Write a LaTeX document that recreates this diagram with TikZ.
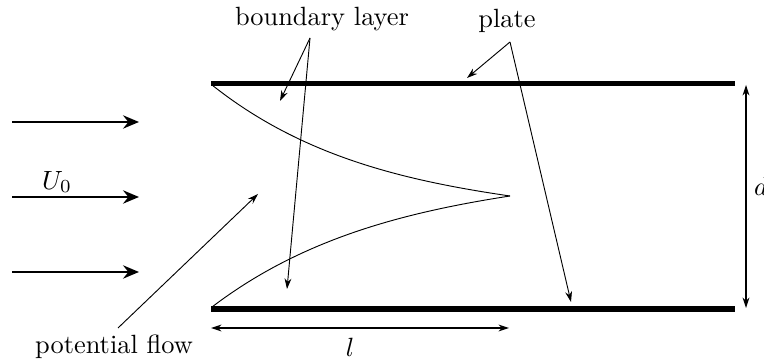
\documentclass[tikz,border=0pt]{standalone}
\usetikzlibrary{arrows.meta}
\begin{document}
\begin{tikzpicture}[x=0.379pt,y=-0.379pt,
  plateline/.style={line width=1.9pt},
  flowarrow/.style={line width=0.95pt,-{Stealth[length=6pt,width=5pt]}},
  thinarrow/.style={line width=0.35pt,-{Stealth[length=4pt,width=2.6pt]}},
  dimarrow/.style={line width=0.4pt,{Stealth[length=4pt,width=2.6pt]}-{Stealth[length=4pt,width=2.6pt]}},
  blcurve/.style={line width=0.35pt},
  lbl/.style={inner sep=0pt}]
\useasboundingbox (0,0) rectangle (764,362);
% plates
\coordinate (TL) at (211,84); \coordinate (TR) at (735,84);
\coordinate (BL) at (211,309); \coordinate (BR) at (735,309);
\draw[plateline] (TL) -- (TR);
\draw[plateline] (BL) -- (BR);
% incoming flow arrows
\coordinate (a1s) at (12,122); \coordinate (a1e) at (139,122);
\coordinate (a2s) at (12,197); \coordinate (a2e) at (139,197);
\coordinate (a3s) at (12,272); \coordinate (a3e) at (139,272);
\draw[flowarrow] (a1s) -- (a1e);
\draw[flowarrow] (a2s) -- (a2e);
\draw[flowarrow] (a3s) -- (a3e);
\node[lbl] (U) at (57,182) {$U_0$};
% boundary layers
\coordinate (tip) at (510,196);
\coordinate (ts) at (212,85);
\coordinate (bs) at (212,307);
\draw[blcurve] (ts) .. controls (300,155) and (400,180) .. (tip);
\draw[blcurve] (bs) .. controls (300,240) and (400,213) .. (tip);
% dimension d
\coordinate (d1) at (746,85); \coordinate (d2) at (746,308);
\draw[dimarrow] (d1) -- (d2);
\node[lbl] (dl) at (761,186) {$d$};
% dimension l
\coordinate (l1) at (211,328); \coordinate (l2) at (509,328);
\draw[dimarrow] (l1) -- (l2);
\node[lbl] (ll) at (350,347) {$l$};
% labels
\node[lbl] (bl) at (322,19) {boundary layer};
\coordinate (blo) at (310,38);
\coordinate (blt1) at (280,101);
\coordinate (blt2) at (287,289);
\draw[thinarrow] (blo) -- (blt1);
\draw[thinarrow] (blo) -- (blt2);
\node[lbl] (pl) at (507,21) {plate};
\coordinate (plo) at (510,42);
\coordinate (plt1) at (467,78);
\coordinate (plt2) at (571,302);
\draw[thinarrow] (plo) -- (plt1);
\draw[thinarrow] (plo) -- (plt2);
\node[lbl] (pf) at (114,347) {potential flow};
\coordinate (pfo) at (118,328);
\coordinate (pft) at (258,194);
\draw[thinarrow] (pfo) -- (pft);
\end{tikzpicture}
\end{document}
